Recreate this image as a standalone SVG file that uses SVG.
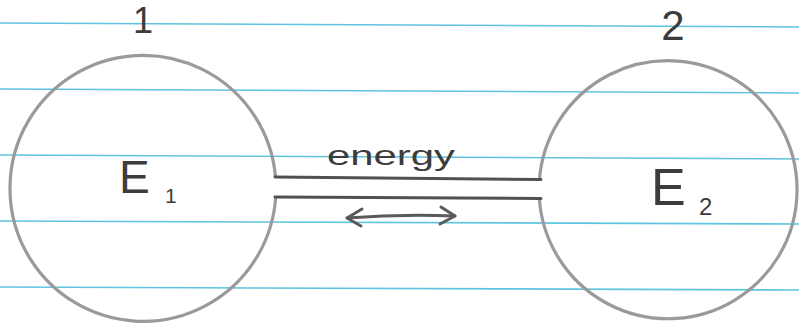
<svg xmlns="http://www.w3.org/2000/svg" width="799" height="326" viewBox="0 0 799 326">
<style>
.rule{stroke:#5ec4df;stroke-width:1.6;fill:none}
.ball{stroke:#9a9a9a;stroke-width:3.2;fill:none}
.pipe{stroke:#505050;stroke-width:3;fill:none;stroke-linecap:round}
.t{font-family:"Liberation Sans",Arial,sans-serif;fill:#3c3c3c}
.arr{stroke:#5a5a5a;stroke-width:3;fill:none;stroke-linecap:round;stroke-linejoin:round}
</style>
<rect width="799" height="326" fill="#ffffff"/>
<g id="paper">
<line class="rule" x1="0" y1="23" x2="799" y2="27"/>
<line class="rule" x1="0" y1="89" x2="799" y2="93"/>
<line class="rule" x1="0" y1="155" x2="799" y2="159"/>
<line class="rule" x1="0" y1="221" x2="799" y2="224"/>
<line class="rule" x1="0" y1="287" x2="799" y2="290"/>
</g>
<g id="node1">
<path class="ball" d="M275.5,177 A133,133 0 1 0 275.7,197"/>
<text class="t" x="143" y="33" font-size="36" text-anchor="middle">1</text>
<text class="t" x="119" y="193" font-size="46">E</text>
<text class="t" x="165" y="203" font-size="21">1</text>
</g>
<g id="node2">
<path class="ball" d="M539.4,180 A129,129 0 1 1 539.3,198"/>
<text class="t" x="673" y="40" font-size="42" text-anchor="middle">2</text>
<text class="t" x="651" y="205" font-size="52">E</text>
<text class="t" x="699" y="215" font-size="24">2</text>
</g>
<g id="connectors">
<path class="pipe" d="M275,177 L541,179.5"/>
<path class="pipe" d="M275,197 L541,198.5"/>
<text class="t" x="327" y="165" font-size="28" textLength="128" lengthAdjust="spacingAndGlyphs">energy</text>
<path class="arr" d="M347,218 Q400,214 455,216"/>
<path class="arr" d="M362,209 L347,218 L361,226"/>
<path class="arr" d="M441,207 L455,216 L440,224"/>
</g>
</svg>
